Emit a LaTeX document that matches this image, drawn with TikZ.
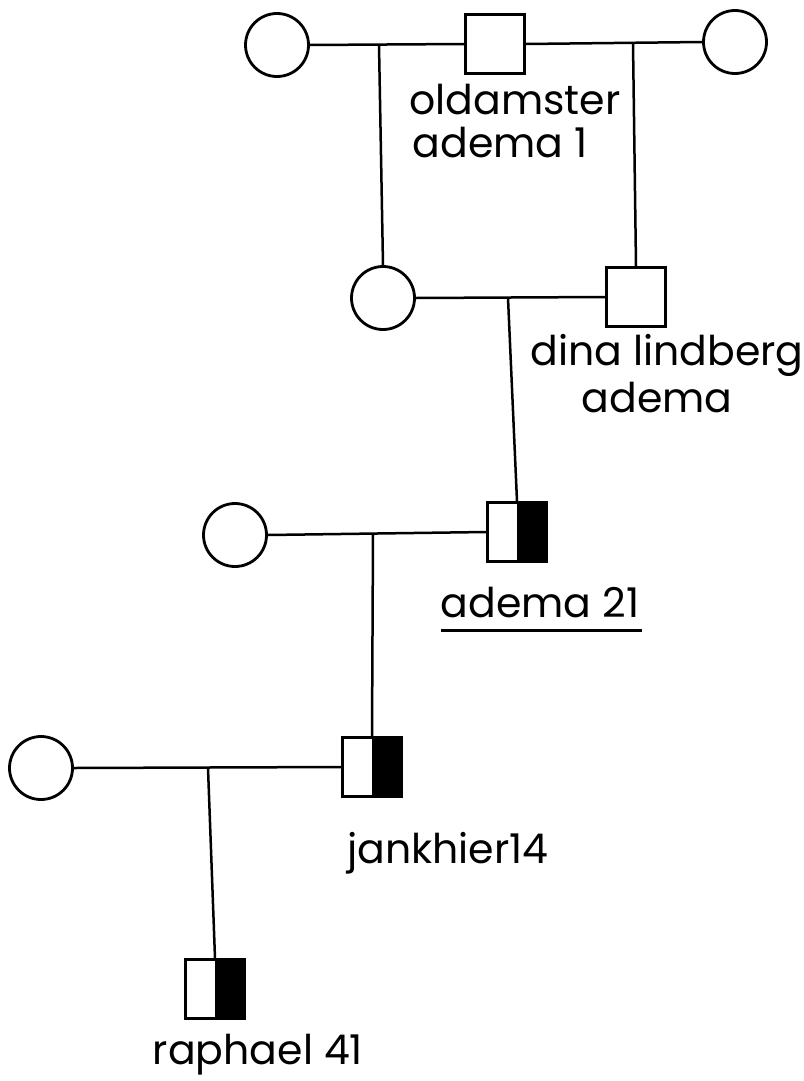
\documentclass[tikz,border=0pt]{standalone}
\usepackage{fontspec}
\setmainfont{Poppins}
\begin{document}
\begin{tikzpicture}[x=1pt,y=-1pt,
  fem/.style={circle,draw,line width=2.8pt,minimum size=63pt,inner sep=0pt},
  mal/.style={rectangle,draw,line width=2.6pt,minimum size=59pt,inner sep=0pt},
  halfmal/.style={mal,path picture={\fill[black] (path picture bounding box.north) rectangle (path picture bounding box.south east);}},
  link/.style={line width=2.5pt},
  lbl/.style={font=\fontsize{41}{45}\selectfont,inner sep=0pt}]
\useasboundingbox (0,0) rectangle (803,1081);
% generation 1
\node[fem] (f1) at (277,45) {};
\node[mal] (m1) at (495,44) {};
\node[fem] (f2) at (735,42) {};
% generation 2
\node[fem] (f3) at (383,298) {};
\node[mal] (m2) at (636,297) {};
% generation 3
\node[fem] (f4) at (235,535) {};
\node[halfmal] (m3) at (517,532) {};
% generation 4
\node[fem] (f5) at (41,768) {};
\node[halfmal] (m4) at (372,767) {};
% generation 5
\node[halfmal] (m5) at (215,989) {};
% marriage lines
\draw[link] (f1.east) -- (m1.west);
\draw[link] (m1.east) -- (f2.west);
\draw[link] (f3.east) -- (m2.west);
\draw[link] (f4.east) -- (m3.west);
\draw[link] (f5.east) -- (m4.west);
% descent lines
\coordinate (d1) at (379,45);
\coordinate (d2) at (633,43);
\coordinate (d3) at (508,298);
\coordinate (d4) at (373,534);
\coordinate (d5) at (208,768);
\draw[link] (d1) -- (f3.north);
\draw[link] (d2) -- (m2.north);
\draw[link] (d3) -- (m3.north);
\draw[link] (d4) -- (m4.north);
\draw[link] (d5) -- (m5.north);
% labels
\node[lbl] (l1) at (515,100) {oldamster};
\node[lbl] (l2) at (500,143) {adema 1};
\node[lbl] (l3) at (667,355) {dina lindberg};
\node[lbl] (l4) at (657,398) {adema};
\node[lbl] (l5) at (540,603) {adema 21};
\node[lbl] (l6) at (448,853) {jankhier14};
\node[lbl] (l7) at (258,1055) {raphael 41};
\draw[line width=2.6pt] ([yshift=-12pt]l5.south west) -- ([yshift=-12pt,xshift=3pt]l5.south east);
\end{tikzpicture}
\end{document}
